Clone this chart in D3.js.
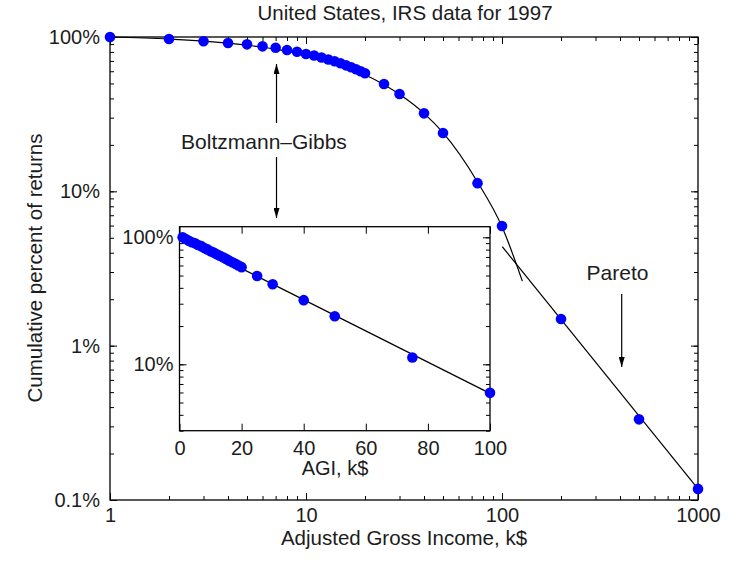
<!DOCTYPE html>
<html>
<head>
<meta charset="utf-8">
<script src="https://cdn.jsdelivr.net/npm/d3@7"></script>
<style>
  body { margin: 0; background: #fff; }
  text { font-family: "Liberation Sans", Arial, sans-serif; fill: #1c1c1c; }
</style>
</head>
<body>
<svg id="chart" width="746" height="566"></svg>
<script>
// IRS 1997, cumulative share of returns above a given AGI (k$)
const incomeK = [1, 2, 3, 4, 5, 6, 7, 8, 9, 10, 11, 12, 13, 14, 15, 16, 17, 18, 19, 20,
  25, 30, 40, 50, 75, 100, 200, 500, 1000];
const cumulativePct = [100, 97, 93.8, 91.4, 89.6, 87, 85.2, 82.3, 80.3, 77.6, 75.8, 73.6, 71.5,
  69.6, 67.6, 65.5, 63.7, 61.8, 60, 58.2,
  49.6, 42.7, 32, 23.9, 11.3, 5.96, 1.49, 0.333, 0.118];

// fitted lines
const bgFitIncome = [1, 2, 3, 5, 7, 10, 15, 20, 30, 40, 50, 75, 100, 127];
const bgFitPct = [100, 97, 94, 88.5, 83.5, 76, 66, 57, 42.5, 32, 24, 11.5, 5.9, 2.62];
const paretoIncome = [100.3, 1000];
const paretoPct = [4.38, 0.118];
const insetFitIncome = [0, 100];
const insetFitPct = [100, 5.9];

const mainXTicks = [1, 10, 100, 1000];
const mainXTickLabels = ["1", "10", "100", "1000"];
const mainYTicks = [0.1, 1, 10, 100];
const mainYTickLabels = ["0.1%", "1%", "10%", "100%"];
const insetXTicks = [0, 20, 40, 60, 80, 100];
const insetYTicks = [10, 100];
const insetYTickLabels = ["10%", "100%"];

const svg = d3.select("#chart");

const main = { left: 110, right: 698, top: 37, bottom: 500 };
const inset = { left: 179.5, right: 490, top: 226.7, bottom: 430.7 };

const x = d3.scaleLog().domain([1, 1000]).range([main.left, main.right]);
const y = d3.scaleLog().domain([0.1, 100]).range([main.bottom, main.top]);
const ix = d3.scaleLinear().domain([0, 100]).range([inset.left, inset.right]);
const iy = d3.scaleLog().domain([3.0, 121.2]).range([inset.bottom, inset.top]);

const defs = svg.append("defs");
defs.append("marker")
  .attr("id", "head")
  .attr("viewBox", "0 0 10 6")
  .attr("refX", 10)
  .attr("refY", 3)
  .attr("markerWidth", 10)
  .attr("markerHeight", 6)
  .attr("markerUnits", "userSpaceOnUse")
  .attr("orient", "auto")
  .append("path")
  .attr("d", "M0,0L10,3L0,6Z")
  .attr("fill", "#000");

function frame(box, xs, ys, opts) {
  const g = svg.append("g");
  const w = box.right - box.left;
  const h = box.bottom - box.top;

  g.append("rect")
    .attr("x", box.left).attr("y", box.top)
    .attr("width", w).attr("height", h)
    .attr("fill", "#fff");

  const put = (axis, tx, ty) => {
    const a = g.append("g")
      .attr("transform", `translate(${tx},${ty})`)
      .call(axis);
    a.select(".domain").remove();
    a.selectAll("line").attr("stroke", "#000").attr("stroke-width", 1);
    a.selectAll("text").style("font-size", "20px").attr("fill", "#1c1c1c");
    return a;
  };

  // minor ticks (log axes only)
  if (opts.xMinor) {
    put(d3.axisBottom(xs).tickValues(xs.ticks()).tickSize(-4).tickFormat(""), 0, box.bottom);
    put(d3.axisTop(xs).tickValues(xs.ticks()).tickSize(-4).tickFormat(""), 0, box.top);
  }
  put(d3.axisLeft(ys).tickValues(ys.ticks()).tickSize(-4).tickFormat(""), box.left, 0);
  put(d3.axisRight(ys).tickValues(ys.ticks()).tickSize(-4).tickFormat(""), box.right, 0);

  // major ticks with labels
  put(d3.axisBottom(xs).tickValues(opts.xTicks).tickSize(-7).tickPadding(opts.xPad)
    .tickFormat((d, i) => opts.xLabels[i]), 0, box.bottom);
  put(d3.axisTop(xs).tickValues(opts.xTicks).tickSize(-7).tickFormat(""), 0, box.top);
  put(d3.axisLeft(ys).tickValues(opts.yTicks).tickSize(-7).tickPadding(opts.yPad)
    .tickFormat((d, i) => opts.yLabels[i]), box.left, 0);
  put(d3.axisRight(ys).tickValues(opts.yTicks).tickSize(-7).tickFormat(""), box.right, 0);

  g.append("rect")
    .attr("x", box.left).attr("y", box.top)
    .attr("width", w).attr("height", h)
    .attr("fill", "none")
    .attr("stroke", "#000")
    .attr("stroke-width", 1.3);
  return g;
}

// main panel
frame(main, x, y, {
  xMinor: true, xTicks: mainXTicks, xLabels: mainXTickLabels, xPad: 8,
  yTicks: mainYTicks, yLabels: mainYTickLabels, yPad: 10
});

const mainLine = d3.line().x(d => x(d[0])).y(d => y(d[1]));
const smooth = d3.line().curve(d3.curveMonotoneX);

svg.append("path")
  .attr("d", smooth(bgFitIncome.map((v, i) => [x(v), y(bgFitPct[i])])))
  .attr("fill", "none").attr("stroke", "#000").attr("stroke-width", 1.2);
svg.append("path")
  .attr("d", mainLine(paretoIncome.map((v, i) => [v, paretoPct[i]])))
  .attr("fill", "none").attr("stroke", "#000").attr("stroke-width", 1.2);

svg.append("g").selectAll("circle")
  .data(incomeK.map((v, i) => [v, cumulativePct[i]]))
  .join("circle")
  .attr("cx", d => x(d[0]))
  .attr("cy", d => y(d[1]))
  .attr("r", 5.3)
  .attr("fill", "#0000ff");

// annotations
svg.append("text")
  .attr("x", 264).attr("y", 148.5)
  .attr("text-anchor", "middle")
  .style("font-size", "21px")
  .text("Boltzmann\u2013Gibbs");
svg.append("line")
  .attr("x1", 276.5).attr("y1", 123).attr("x2", 276.5).attr("y2", 64)
  .attr("stroke", "#000").attr("stroke-width", 1.2).attr("marker-end", "url(#head)");
svg.append("line")
  .attr("x1", 276.5).attr("y1", 157).attr("x2", 276.5).attr("y2", 218)
  .attr("stroke", "#000").attr("stroke-width", 1.2).attr("marker-end", "url(#head)");

svg.append("text")
  .attr("x", 617.5).attr("y", 280)
  .attr("text-anchor", "middle")
  .style("font-size", "21px")
  .text("Pareto");
svg.append("line")
  .attr("x1", 621.7).attr("y1", 294).attr("x2", 621.7).attr("y2", 367)
  .attr("stroke", "#000").attr("stroke-width", 1.2).attr("marker-end", "url(#head)");

// inset panel
frame(inset, ix, iy, {
  xMinor: false, xTicks: insetXTicks, xLabels: insetXTicks.map(String), xPad: 10,
  yTicks: insetYTicks, yLabels: insetYTickLabels, yPad: 6
});

svg.append("path")
  .attr("d", d3.line().x(d => ix(d[0])).y(d => iy(d[1]))(insetFitIncome.map((v, i) => [v, insetFitPct[i]])))
  .attr("fill", "none").attr("stroke", "#000").attr("stroke-width", 1.2);

svg.append("g").selectAll("circle")
  .data(incomeK.map((v, i) => [v, cumulativePct[i]]).filter(d => d[0] <= 100))
  .join("circle")
  .attr("cx", d => ix(d[0]))
  .attr("cy", d => iy(d[1]))
  .attr("r", 5.3)
  .attr("fill", "#0000ff");

svg.append("text")
  .attr("x", 335).attr("y", 475)
  .attr("text-anchor", "middle")
  .style("font-size", "20px")
  .text("AGI, k$");

// titles
svg.append("text")
  .attr("x", 405).attr("y", 20)
  .attr("text-anchor", "middle")
  .style("font-size", "20.5px")
  .text("United States, IRS data for 1997");
svg.append("text")
  .attr("x", 404).attr("y", 545)
  .attr("text-anchor", "middle")
  .style("font-size", "20.5px")
  .text("Adjusted Gross Income, k$");
svg.append("text")
  .attr("transform", "translate(42,268) rotate(-90)")
  .attr("text-anchor", "middle")
  .style("font-size", "20.5px")
  .text("Cumulative percent of returns");
</script>
</body>
</html>
